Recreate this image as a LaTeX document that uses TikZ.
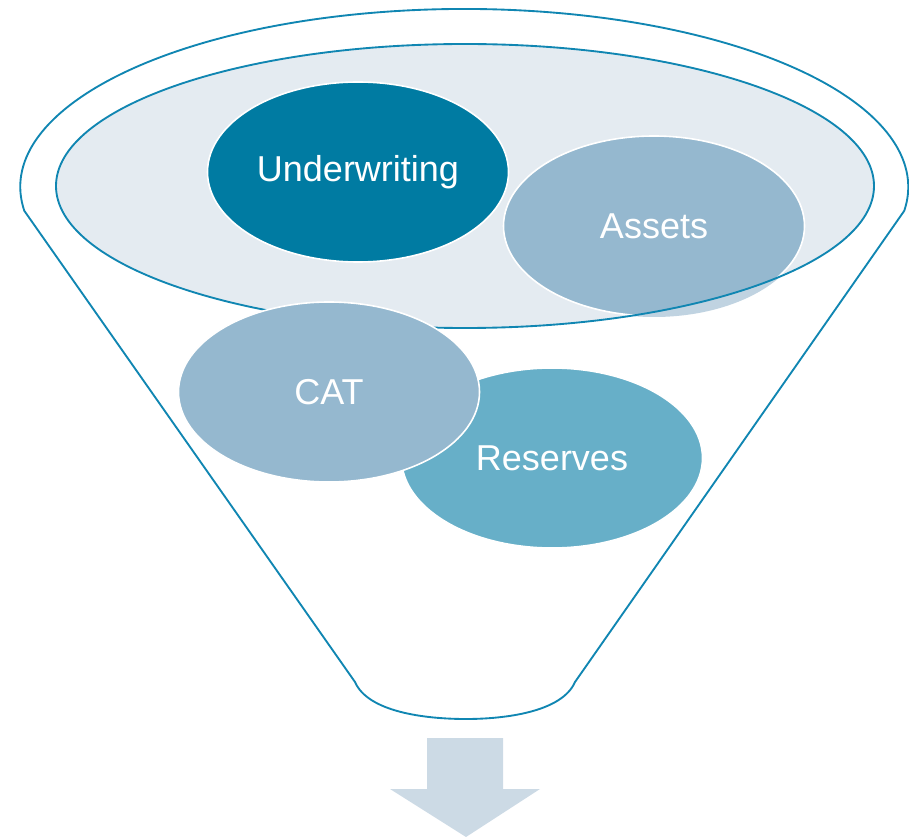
\documentclass[tikz,border=0pt]{standalone}
\usepackage{fontspec}
\newfontfamily\bubblefont{Liberation Sans}
\usetikzlibrary{shapes.geometric}

\definecolor{funnelblue}{RGB}{16,134,178}
\definecolor{uwblue}{RGB}{0,123,162}
\definecolor{paleblue}{RGB}{149,184,207}
\definecolor{midblue}{RGB}{103,175,200}
\definecolor{mouthfill}{RGB}{228,235,241}
\definecolor{fadeblue}{RGB}{192,211,225}
\definecolor{arrowgrey}{RGB}{204,218,229}

\tikzset{every picture/.style={line width=0.75pt}}
\tikzset{
  bubble/.style={ellipse, draw=white, line width=1.2pt, inner sep=0pt,
    minimum width=225.75pt, minimum height=135pt, text=white,
    font=\bubblefont\fontsize{27}{31}\selectfont},
  funnelline/.style={draw=funnelblue, line width=1.4pt}
}

\begin{document}
\begin{tikzpicture}[x=0.75pt,y=0.75pt,yscale=-1,xscale=1]
	\useasboundingbox (0,0) rectangle (909,837);

	%Shape: Funnel body
	\draw [funnelline, fill=white] (355,682) -- (24.3,210.8) arc [start angle=172.3, end angle=367.7, x radius=444, y radius=178] -- (575,682) .. controls (562,712) and (505,719) .. (466,719) .. controls (425,719) and (368,712) .. (355,682) -- cycle ;
	%Shape: Funnel mouth
	\fill [mouthfill] (465,186) ellipse [x radius=409, y radius=142] ;

	%Shape: Ellipse [Underwriting]
	\node [bubble, fill=uwblue] (uw) at (358,172) {Underwriting};
	%Shape: Ellipse [Assets]
	\node [bubble, fill=paleblue] (assets) at (654,226) {Assets};
	%faded part of assets outside the mouth
	\begin{scope}
		\clip (654,226) ellipse [x radius=152, y radius=91];
		\fill [fadeblue, even odd rule] (0,0) rectangle (909,837) (465,186) ellipse [x radius=409, y radius=142];
	\end{scope}
	%Shape: Funnel mouth rim
	\draw [funnelline] (465,186) ellipse [x radius=409, y radius=142] ;

	%Shape: Ellipse [Reserves]
	\node [bubble, fill=midblue] (reserves) at (552,458) {Reserves};
	%Shape: Ellipse [CAT]
	\node [bubble, fill=paleblue] (cat) at (329,392) {CAT};

	%Shape: Down Arrow
	\fill [arrowgrey] (427,738) -- (503,738) -- (503,789) -- (540,789) -- (466,837) -- (390,789) -- (427,789) -- cycle ;
\end{tikzpicture}
\end{document}
